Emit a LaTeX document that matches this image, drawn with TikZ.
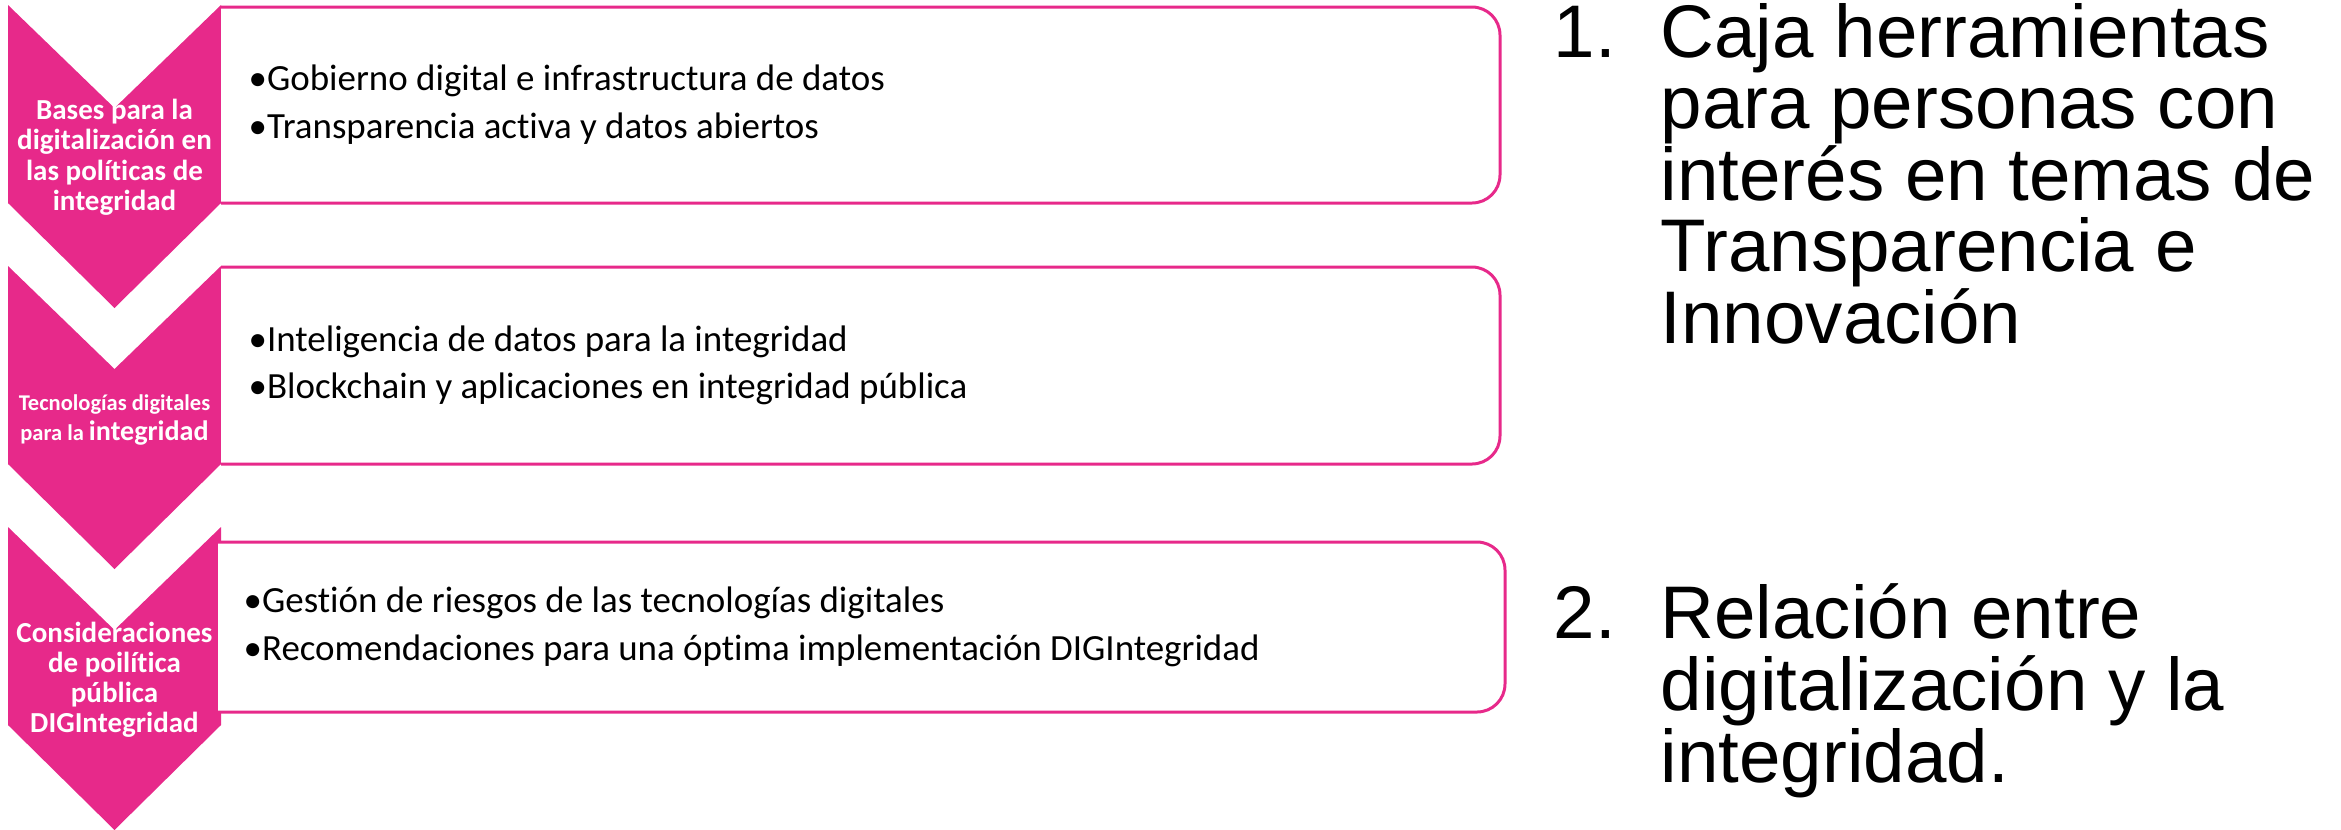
\documentclass[tikz,border=0pt]{standalone}
\usepackage{fontspec}
\setmainfont{Carlito}[Ligatures={NoCommon}]
\newfontfamily\arialfont{Liberation Sans}
\definecolor{smartpink}{RGB}{231,41,138}
\tikzstyle{chevron}=[fill=smartpink, draw=none]
\tikzstyle{itembox}=[draw=smartpink, fill=white, line width=0.85pt,
    rounded corners=0.28cm]
\tikzstyle{chevlabel}=[text=white, inner sep=0pt, anchor=base,
    font=\bfseries\fontsize{8.25}{8.7}\selectfont]
\tikzstyle{smalllabel}=[chevlabel, font=\bfseries\fontsize{6.4}{7}\selectfont]
\tikzstyle{bullettext}=[inner sep=0pt, anchor=base west,
    font=\fontsize{10.5}{13}\selectfont]
\tikzstyle{bigtext}=[inner sep=0pt, anchor=base west,
    font=\arialfont\fontsize{21.2}{21.5}\selectfont]

\begin{document}
\begin{tikzpicture}[x=0.01cm, y=-0.01cm]
    \useasboundingbox (0,0) rectangle (2341,829);
    % chevrons
    \foreach \y in {5,266,527}
      \fill[chevron] (8,\y) -- (114.5,\y+103) -- (221,\y) -- (221,\y+198)
        -- (114.5,\y+303) -- (8,\y+198) -- cycle;
    % boxes
    \draw[itembox] (221,7) -- (1500,7) -- (1500,203) -- (221,203);
    \draw[itembox] (221,267) -- (1500,267) -- (1500,464) -- (221,464);
    \draw[itembox] (218,542) -- (1505,542) -- (1505,712) -- (218,712);
    % chevron labels
    \foreach \ln [count=\i from 0] in {Bases para la, digitalización en,
        las políticas de, integridad}
      \node[chevlabel] (bases-\i) at (114.5,119+30.5*\i) {\ln};
    \node[smalllabel] (tecno-0) at (114.5,410) {Tecnologías digitales};
    \node[smalllabel] (tecno-1) at (114.5,440)
      {para la {\fontsize{8}{8}\selectfont integridad}};
    \foreach \ln [count=\i from 0] in {Consideraciones, de poilítica,
        pública, DIGIntegridad}
      \node[chevlabel] (consid-\i) at (114.5,642+30.3*\i) {\ln};
    % box items
    \node[bullettext] (gob) at (248,90) {•Gobierno digital e infrastructura de datos};
    \node[bullettext] (transp) at (248,138) {•Transparencia activa y datos abiertos};
    \node[bullettext] (intel) at (248,351) {•Inteligencia de datos para la integridad};
    \node[bullettext] (block) at (248,398) {•Blockchain y aplicaciones en integridad pública};
    \node[bullettext] (riesgo) at (243,612) {•Gestión de riesgos de las tecnologías digitales};
    \node[bullettext] (recom) at (243,660) {•Recomendaciones para una óptima implementación DIGIntegridad};
    % right hand list
    \node[bigtext] (num-1) at (1553,57) {1.};
    \foreach \ln [count=\i from 0] in {Caja herramientas, para personas con,
        interés en temas de, Transparencia e, Innovación}
      \node[bigtext] (caja-\i) at (1660,57+71.5*\i) {\ln};
    \node[bigtext] (num-2) at (1553,638) {2.};
    \foreach \ln [count=\i from 0] in {Relación entre, digitalización y la,
        integridad.}
      \node[bigtext] (rel-\i) at (1660,638+72*\i) {\ln};
\end{tikzpicture}
\end{document}
